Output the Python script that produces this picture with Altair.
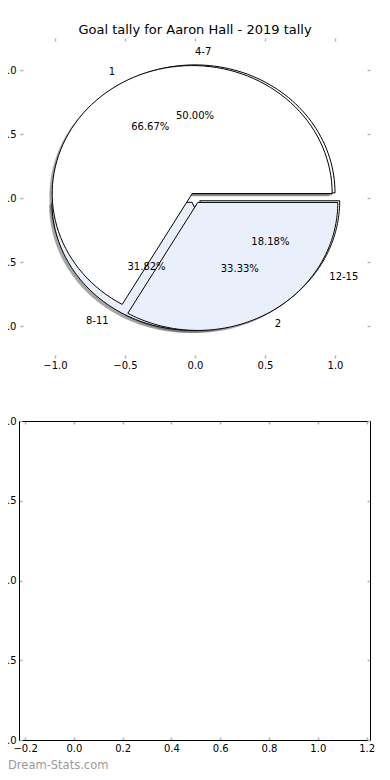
import altair as alt
import pandas as pd

TITLE = "Goal tally for Aaron Hall - 2019 tally"
WATERMARK = "Dream-Stats.com"

# outer pie (drawn on top)
pie_a_labels = ["1", "2"]
pie_a_values = [2, 1]
pie_a_colors = ["#ffffff", "#e9effb"]
# inner pie (drawn first)
pie_b_labels = ["4-7", "8-11", "12-15"]
pie_b_values = [11, 7, 4]
pie_b_colors = ["#ffffff", "#e9effb", "#ffffff"]
EXPLODE = 0.04

top_ticks = [-1.0, -0.5, 0.0, 0.5, 1.0]
bottom_x_ticks = [-0.2, 0.0, 0.2, 0.4, 0.6, 0.8, 1.0, 1.2]
bottom_y_ticks = [0.0, 0.5, 1.0, 1.5, 2.0]

FONT = "DejaVu Sans"
TICK = "#b4b4b4"
W, H = 351, 764

rows = []
for pie, labels, values, colors in [("b", pie_b_labels, pie_b_values, pie_b_colors),
                                    ("a", pie_a_labels, pie_a_values, pie_a_colors)]:
    total = sum(values)
    cum = 0.0
    for lab, v, c in zip(labels, values, colors):
        frac = v / total
        start = cum * 360.0
        end = (cum + frac) * 360.0
        rows.append(dict(pie=pie, sid=pie + lab, label=lab, frac=frac, start=start, end=end,
                         mid=(start + end) / 2, explode=EXPLODE, color=c,
                         pct=f"{frac * 100:.2f}%"))
        cum += frac
slices = pd.DataFrame(rows)

TOP_Y0, TOP_Y1 = 30, 350      # top panel plot rows
BOT_Y0, BOT_Y1 = 413, 732     # bottom panel plot rows

XS_TOP = alt.Scale(domain=[-1.25, 1.25], range=[1, 351], nice=False, zero=False)
YS_TOP = alt.Scale(domain=[-1.25, 1.25], range=[TOP_Y1, TOP_Y0], nice=False, zero=False)
XS_BOT = alt.Scale(domain=[-0.225, 1.214], range=[0, 351], nice=False, zero=False)
YS_BOT = alt.Scale(domain=[0, 2], range=[BOT_Y1, BOT_Y0], nice=False, zero=False)


def axis(orient, offset, values, labels=False, ticks=False, domain=False, pad=0):
    return alt.Axis(orient=orient, offset=offset, values=values, labels=labels, ticks=ticks,
                    domain=domain, grid=False, title=None, tickSize=3 if ticks else 0,
                    tickColor=TICK, tickWidth=1.5, domainColor="black", domainWidth=1,
                    labelFont=FONT, labelFontSize=10, labelColor="black", labelPadding=pad,
                    format=".1f", labelFlush=False, labelOverlap=False)


N = 90


def wedges(pie, dx, dy, xaxis, yaxis, shadow=False):
    base = alt.Chart(slices)
    if pie is not None:
        base = base.transform_filter(alt.datum.pie == pie)
    base = (base.transform_calculate(k=f"sequence(0, {N + 3})")
            .transform_flatten(["k"])
            .transform_calculate(t=f"clamp(datum.k - 1, 0, {N}) / {N}")
            .transform_calculate(ang="(datum.start + (datum.end - datum.start) * datum.t) * PI / 180")
            .transform_calculate(rad=f"(datum.k == 0 || datum.k == {N + 2}) ? 0 : 1")
            .transform_calculate(px=f"datum.explode * cos(datum.mid * PI / 180) + datum.rad * cos(datum.ang) + ({dx})")
            .transform_calculate(py=f"datum.explode * sin(datum.mid * PI / 180) + datum.rad * sin(datum.ang) + ({dy})"))
    enc = dict(x=alt.X("px:Q", scale=XS_TOP, axis=xaxis),
               y=alt.Y("py:Q", scale=YS_TOP, axis=yaxis),
               order=alt.Order("k:Q"), detail="sid:N")
    if shadow:
        return base.mark_line(fill="#4d4d4d", fillOpacity=0.5, strokeOpacity=0,
                              interpolate="linear").encode(**enc)
    return base.mark_line(stroke="black", strokeWidth=1, interpolate="linear",
                          strokeJoin="miter").encode(fill=alt.Fill("color:N", scale=None), **enc)


shadow_layer = wedges(None, -0.02, -0.02,
                      axis("bottom", TOP_Y1 - H, top_ticks, labels=True, pad=2),
                      axis("left", -1, top_ticks, labels=True, pad=4), shadow=True)
pie_b_layer = wedges("b", 0, 0,
                     axis("top", -TOP_Y1, top_ticks, ticks=True),
                     axis("right", 1 - W, top_ticks, ticks=True))
pie_a_layer = wedges("a", 0, 0,
                     axis("bottom", TOP_Y0 - H, top_ticks, ticks=True),
                     axis("left", -351, top_ticks, ticks=True))

lab_base = (alt.Chart(slices)
            .transform_calculate(lx="(datum.explode + 1.1) * cos(datum.mid * PI / 180)",
                                 ly="(datum.explode + 1.1) * sin(datum.mid * PI / 180)",
                                 qx="(datum.explode + 0.6) * cos(datum.mid * PI / 180)",
                                 qy="(datum.explode + 0.6) * sin(datum.mid * PI / 180)"))
txt = dict(font=FONT, fontSize=10, color="black", baseline="middle")
labels_left = lab_base.transform_filter("datum.lx > 0").mark_text(align="left", **txt).encode(
    x=alt.X("lx:Q", scale=XS_TOP, axis=None), y=alt.Y("ly:Q", scale=YS_TOP, axis=None), text="label:N")
labels_right = lab_base.transform_filter("datum.lx <= 0").mark_text(align="right", **txt).encode(
    x=alt.X("lx:Q", scale=XS_TOP, axis=None), y=alt.Y("ly:Q", scale=YS_TOP, axis=None), text="label:N")
pcts = lab_base.mark_text(align="center", **txt).encode(
    x=alt.X("qx:Q", scale=XS_TOP, axis=None), y=alt.Y("qy:Q", scale=YS_TOP, axis=None), text="pct:N")

bdf = pd.DataFrame({"xv": bottom_x_ticks,
                    "yv": bottom_y_ticks + [bottom_y_ticks[-1]] * (len(bottom_x_ticks) - len(bottom_y_ticks))})


def frame_layer(xaxis, yaxis):
    return alt.Chart(bdf).mark_point(opacity=0).encode(
        x=alt.X("xv:Q", scale=XS_BOT, axis=xaxis),
        y=alt.Y("yv:Q", scale=YS_BOT, axis=yaxis))


frame1 = frame_layer(axis("top", -BOT_Y1, bottom_x_ticks, ticks=True, domain=True),
                     axis("right", -W, bottom_y_ticks, ticks=True, domain=True))
frame2 = frame_layer(axis("bottom", BOT_Y1 - H, bottom_x_ticks, labels=True, pad=3),
                     axis("left", 0, bottom_y_ticks, labels=True, pad=3))
frame3 = frame_layer(axis("bottom", BOT_Y0 - H, bottom_x_ticks, ticks=True, domain=True),
                     axis("left", -351, bottom_y_ticks, ticks=True, domain=True))

title = alt.Chart(pd.DataFrame({"t": [TITLE]})).mark_text(
    font=FONT, fontSize=13, color="black", align="center", baseline="middle").encode(
    text="t:N", x=alt.value(176), y=alt.value(21.5))
mark = alt.Chart(pd.DataFrame({"t": [WATERMARK]})).mark_text(
    font=FONT, fontSize=11.5, color="#9a9a9a", align="left", baseline="middle").encode(
    text="t:N", x=alt.value(-11), y=alt.value(758))

chart = alt.layer(shadow_layer, pie_b_layer, pie_a_layer, labels_left, labels_right, pcts,
                  frame1, frame2, frame3, title, mark).resolve_scale(
    x="independent", y="independent").resolve_axis(x="independent", y="independent").properties(
    width=W, height=H, autosize=alt.AutoSizeParams(type="none"),
    padding={"left": 11, "top": 0, "right": 12, "bottom": 0}).configure_view(stroke=None)

chart.save("out.html", embed_options={"renderer": "svg", "actions": False})
